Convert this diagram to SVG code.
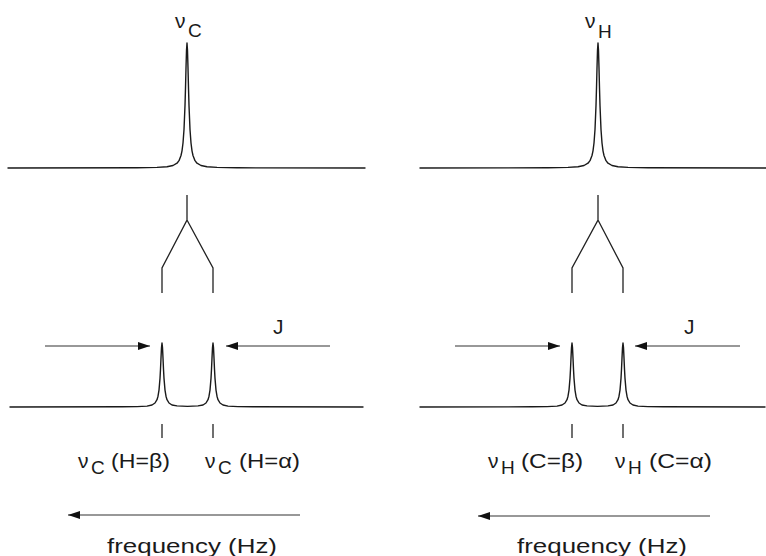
<svg xmlns="http://www.w3.org/2000/svg" width="766" height="556" viewBox="0 0 766 556">
  <style>
    .spec { fill: none; stroke: #1a1a1a; stroke-width: 1.4; stroke-linejoin: round; stroke-linecap: round; }
    .ln { fill: none; stroke: #222; stroke-width: 1.3; }
    .arr { fill: none; stroke: #333; stroke-width: 1.2; marker-end: url(#ah); }
    .t { font-family: "Liberation Sans", Arial, sans-serif; font-size: 21px; fill: #1a1a1a; }
    .sub { font-size: 19px; }
  </style>
  <defs>
    <marker id="ah" markerUnits="userSpaceOnUse" markerWidth="12" markerHeight="8" refX="12" refY="4" orient="auto">
      <path d="M0,0 L12,4 L0,8 Z" fill="#111"/>
    </marker>
  </defs>
  <rect width="766" height="556" fill="#fff"/>

  <!-- Carbon spectrum, decoupled -->
  <g id="c-decoupled">
    <path class="spec" d="M8,168 L137,167.8 L157,167.4 L167,166.8 L173,165.5 L177,163.2 L179,160.65 L181,155.5 L182,150.8 L183,143 L184,129.5 L185,105.5 L185.5,88 L186,68 L186.5,50.4 L187,43 L187.5,50.4 L188,68 L188.5,88 L189,105.5 L190,129.5 L191,143 L192,150.8 L193,155.5 L195,160.65 L197,163.2 L201,165.5 L207,166.8 L217,167.4 L237,167.8 L365,168"/>
    <text class="t" x="175" y="28">ν<tspan class="sub" x="188" y="37">C</tspan></text>
  </g>

  <!-- Proton spectrum, decoupled -->
  <g id="h-decoupled">
    <path class="spec" d="M420,168 L548,167.8 L568,167.4 L578,166.8 L584,165.5 L588,163.2 L590,160.65 L592,155.5 L593,150.8 L594,143 L595,129.5 L596,105.5 L596.5,88 L597,68 L597.5,50.4 L598,43 L598.5,50.4 L599,68 L599.5,88 L600,105.5 L601,129.5 L602,143 L603,150.8 L604,155.5 L606,160.65 L608,163.2 L612,165.5 L618,166.8 L628,167.4 L648,167.8 L766,168"/>
    <text class="t" x="585" y="28">ν<tspan class="sub" x="598" y="38">H</tspan></text>
  </g>

  <!-- Carbon doublet -->
  <g id="c-doublet">
    <path class="spec" d="M10,407 L122,406.8 L137,406.6 L147,406.1 L152,405 L155,403 L157,399.7 L158,396.2 L159,390.1 L160,378.4 L160.5,369.2 L161,358.1 L161.5,347.6 L162,343 L162.5,347.6 L163,358.1 L163.5,369.2 L164,378.4 L165,390.1 L166,396.2 L167,399.7 L169,403 L172,405 L177,405.9 L187.5,406.4 L198,405.9 L203,405 L206,403 L208,399.7 L209,396.2 L210,390.1 L211,378.4 L211.5,369.2 L212,358.1 L212.5,347.6 L213,343 L213.5,347.6 L214,358.1 L214.5,369.2 L215,378.4 L216,390.1 L217,396.2 L218,399.7 L220,403 L223,405 L228,406.1 L238,406.6 L253,406.8 L363,407"/>
    <line class="ln" x1="162" y1="424" x2="162" y2="438"/>
    <line class="ln" x1="213" y1="424" x2="213" y2="438"/>
    <text class="t" x="78" y="468">ν<tspan class="sub" x="91" y="474">C </tspan><tspan x="111" y="468" textLength="59" lengthAdjust="spacingAndGlyphs">(H=β)</tspan></text>
    <text class="t" x="205" y="468">ν<tspan class="sub" x="218" y="474">C </tspan><tspan x="239" y="468" textLength="61" lengthAdjust="spacingAndGlyphs">(H=α)</tspan></text>
    <text class="t" x="273" y="334">J</text>
  </g>

  <!-- Proton doublet -->
  <g id="h-doublet">
    <path class="spec" d="M420,407 L532,406.8 L547,406.6 L557,406.1 L562,405 L565,403 L567,399.7 L568,396.2 L569,390.1 L570,378.4 L570.5,369.2 L571,358.1 L571.5,347.6 L572,343 L572.5,347.6 L573,358.1 L573.5,369.2 L574,378.4 L575,390.1 L576,396.2 L577,399.7 L579,403 L582,405 L587,405.9 L597.5,406.4 L608,405.9 L613,405 L616,403 L618,399.7 L619,396.2 L620,390.1 L621,378.4 L621.5,369.2 L622,358.1 L622.5,347.6 L623,343 L623.5,347.6 L624,358.1 L624.5,369.2 L625,378.4 L626,390.1 L627,396.2 L628,399.7 L630,403 L633,405 L638,406.1 L648,406.6 L663,406.8 L765,407"/>
    <line class="ln" x1="572" y1="424" x2="572" y2="438"/>
    <line class="ln" x1="623" y1="424" x2="623" y2="438"/>
    <text class="t" x="488" y="468">ν<tspan class="sub" x="501" y="474">H </tspan><tspan x="521" y="468" textLength="62" lengthAdjust="spacingAndGlyphs">(C=β)</tspan></text>
    <text class="t" x="615" y="468">ν<tspan class="sub" x="628" y="474">H </tspan><tspan x="649" y="468" textLength="63" lengthAdjust="spacingAndGlyphs">(C=α)</tspan></text>
    <text class="t" x="684" y="334">J</text>
  </g>

  <!-- Frequency axes -->
  <g id="axis-left">
    <text class="t" x="107" y="553" textLength="170" lengthAdjust="spacingAndGlyphs">frequency (Hz)</text>
  </g>
  <g id="axis-right">
    <text class="t" x="517" y="553" textLength="170" lengthAdjust="spacingAndGlyphs">frequency (Hz)</text>
  </g>

  <!-- Connectors -->
  <g id="connectors">
    <path class="ln" d="M187,195 V220 L162,268 V293 M187,220 L213,268 V293"/>
    <path class="ln" d="M598,195 V220 L572,268 V293 M598,220 L623,268 V293"/>
    <line class="arr" x1="45" y1="346" x2="150" y2="346"/>
    <line class="arr" x1="330" y1="346" x2="226" y2="346"/>
    <line class="arr" x1="455" y1="346" x2="560" y2="346"/>
    <line class="arr" x1="740" y1="346" x2="635" y2="346"/>
    <line class="arr" x1="300" y1="515" x2="68" y2="515"/>
    <line class="arr" x1="710" y1="516" x2="478" y2="516"/>
  </g>
</svg>
